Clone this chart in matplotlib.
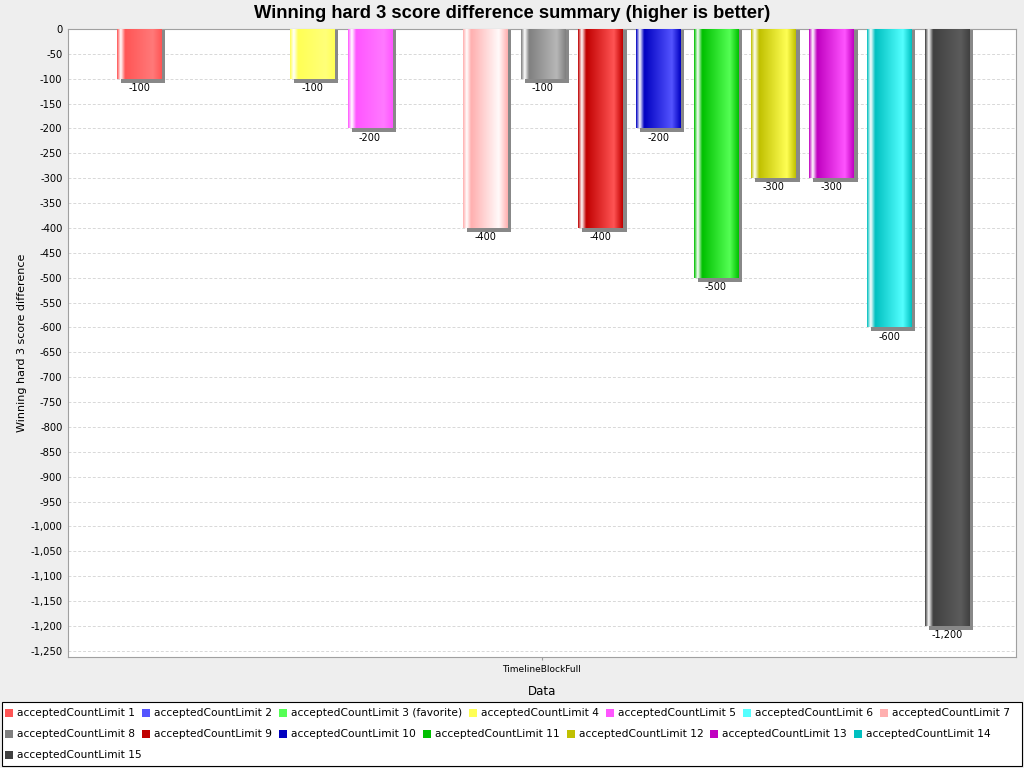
import numpy as np
import matplotlib
matplotlib.use("Agg")
import matplotlib.pyplot as plt
from matplotlib.patches import Rectangle
from matplotlib.ticker import FuncFormatter, MultipleLocator
import matplotlib.colors as mcolors

# data
series = ["acceptedCountLimit %d" % i for i in range(1, 16)]
series[2] = "acceptedCountLimit 3 (favorite)"
values = [-100, 0, 0, -100, -200, 0, -400, -100, -400, -200, -500, -300, -300, -600, -1200]
colors = ["#FF5555", "#5555FF", "#55FF55", "#FFFF55", "#FF55FF", "#55FFFF", "#FFAFAF",
          "#808080", "#C00000", "#0000C0", "#00C000", "#C0C000", "#C000C0", "#00C0C0", "#404040"]
category = "TimelineBlockFull"

plt.rcParams['font.family'] = ['DejaVu Sans']

W, H = 1024, 768
fig = plt.figure(figsize=(10.24, 7.68), dpi=100, facecolor="#EEEEEE")
ax = fig.add_axes([68 / W, 1 - 657 / H, 948 / W, 628 / H])
ax.set_facecolor("white")

bar_w = 0.77
xmin, xmax = -1.23, 15.2
ymin, ymax = -1262.5, 0

# shadow offsets (about 4 px)
dx = 4 / 57.7
dy = 4 / 0.4975


def gradient_row(c):
    base = np.array(mcolors.to_rgb(c))
    bright = np.where(base == 0, 0.33, np.minimum(base / 0.7, 1.0))
    white = np.ones(3)
    n = 120
    row = np.zeros((1, n, 3))
    for k in range(n):
        t = k / (n - 1)
        if t < 0.08:
            f = t / 0.08
            col = (1 - f) * base + f * white
        elif t < 0.18:
            f = (t - 0.08) / 0.10
            col = (1 - f) * white + f * base
        elif t < 0.80:
            f = (t - 0.18) / 0.62
            col = (1 - f) * base + f * bright
        else:
            f = (t - 0.80) / 0.20
            col = (1 - f) * bright + f * base
        row[0, k] = col
    return row


for i, (v, c) in enumerate(zip(values, colors)):
    if v == 0:
        continue
    x0 = i - bar_w / 2
    ax.add_patch(Rectangle((x0 + dx, 0), bar_w, v - dy, facecolor="#888888",
                           edgecolor="none", zorder=2))
    ax.imshow(gradient_row(c), extent=(x0, x0 + bar_w, v, 0), aspect="auto",
              zorder=3, interpolation="bilinear")
    ax.annotate("{:,.0f}".format(v), (i, v), xytext=(0, -3), textcoords="offset points",
                ha="center", va="top", fontsize=7, zorder=4)

ax.set_xlim(xmin, xmax)
ax.set_ylim(ymin, ymax)

ax.yaxis.set_major_locator(MultipleLocator(50))
ax.yaxis.set_major_formatter(FuncFormatter(lambda y, p: "{:,.0f}".format(y)))
ax.grid(axis="y", color="#D8D8D8", linestyle=(0, (3, 2)), linewidth=0.7, zorder=0)
ax.set_axisbelow(True)
ax.tick_params(axis="y", labelsize=7.2, length=0, pad=4)
ax.set_xticks([(xmin + xmax) / 2])
ax.set_xticklabels([category])
ax.tick_params(axis="x", labelsize=6.5, length=2, color="#999999", pad=4)
for s in ax.spines.values():
    s.set_color("#A0A0A0")
    s.set_linewidth(0.8)

ax.set_ylabel("Winning hard 3 score difference", fontsize=8, labelpad=2.5)
ax.set_xlabel("Data", fontsize=8.5, labelpad=8)
fig.text(0.5, 1 - 13 / H, "Winning hard 3 score difference summary (higher is better)",
         ha="center", va="center", fontsize=13.2, fontweight="bold", family="Liberation Sans")

# legend box with flowing items
fig.patches.append(Rectangle((2 / W, 2 / H), 1020 / W, 64 / H, transform=fig.transFigure,
                             facecolor="white", edgecolor="black", linewidth=0.8))
renderer = fig.canvas.get_renderer()
row_y = [713, 734, 755]
x, row = 5, 0
for name, c in zip(series, colors):
    t = fig.text(0, 0, name, fontsize=7.7, va="center", ha="left")
    tw = t.get_window_extent(renderer).width
    if x + 12 + tw > 1018:
        row += 1
        x = 5
    y = row_y[row]
    fig.patches.append(Rectangle((x / W, 1 - (y + 4) / H), 8 / W, 8 / H,
                                 transform=fig.transFigure, facecolor=c, edgecolor="none"))
    t.set_position(((x + 12) / W, 1 - y / H))
    x += 12 + tw + 7

fig.savefig("out.png", dpi=100, facecolor=fig.get_facecolor())
